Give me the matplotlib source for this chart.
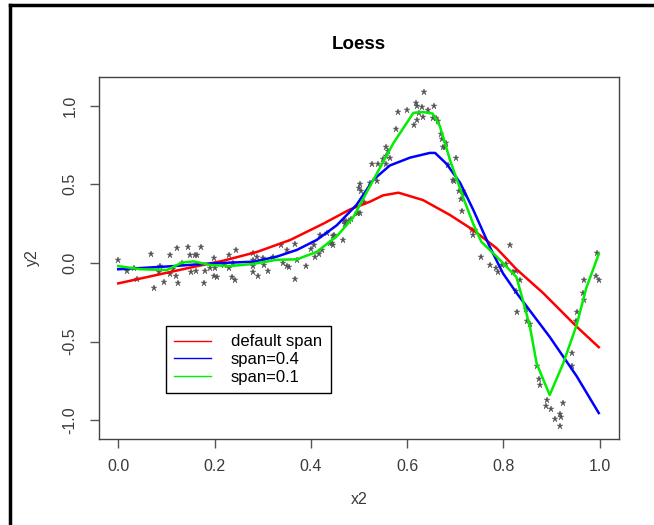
import matplotlib
matplotlib.use("Agg")
import matplotlib.pyplot as plt
from matplotlib.lines import Line2D

plt.rcParams['font.family'] = ['Liberation Sans', 'DejaVu Sans']

# scatter points
x2 = [0.00, 0.018, 0.032, 0.039, 0.068, 0.075, 0.084, 0.086, 0.095, 0.108,
      0.108, 0.113, 0.120, 0.123, 0.125, 0.132, 0.144, 0.148, 0.151, 0.160,
      0.164, 0.162, 0.172, 0.178, 0.180, 0.191, 0.199, 0.201, 0.198, 0.206,
      0.219, 0.229, 0.231, 0.238, 0.236, 0.243, 0.245, 0.279, 0.280, 0.279,
      0.279, 0.288, 0.291, 0.301, 0.302, 0.310, 0.321, 0.338, 0.342, 0.350,
      0.354, 0.351, 0.367, 0.367, 0.371, 0.390, 0.400, 0.407, 0.409, 0.416,
      0.423, 0.419, 0.434, 0.440, 0.445, 0.447, 0.443, 0.448, 0.466, 0.469,
      0.471, 0.474, 0.480, 0.483, 0.495, 0.498, 0.502, 0.500, 0.502, 0.505,
      0.510, 0.523, 0.528, 0.538, 0.540, 0.550, 0.556, 0.556, 0.557, 0.561,
      0.564, 0.577, 0.580, 0.600, 0.614, 0.618, 0.621, 0.621, 0.625, 0.630,
      0.632, 0.635, 0.644, 0.654, 0.656, 0.659, 0.665, 0.671, 0.673, 0.675,
      0.678, 0.680, 0.685, 0.696, 0.698, 0.701, 0.708, 0.711, 0.713, 0.715,
      0.719, 0.734, 0.737, 0.741, 0.754, 0.772, 0.784, 0.789, 0.798, 0.806,
      0.813, 0.819, 0.826, 0.835, 0.826, 0.829, 0.846, 0.848, 0.855, 0.869,
      0.874, 0.876, 0.888, 0.891, 0.898, 0.907, 0.917, 0.917, 0.920, 0.924,
      0.943, 0.943, 0.950, 0.953, 0.966, 0.967, 0.967, 0.993, 0.998, 0.995]
y2 = [0.02, -0.05, -0.03, -0.10, 0.06, -0.16, -0.06, -0.02, -0.12, 0.05,
      -0.07, -0.04, -0.08, 0.095, -0.13, 0.00, 0.10, 0.05, -0.06, 0.05,
      0.05, -0.05, 0.10, -0.13, -0.05, -0.03, 0.03, -0.03, -0.08, -0.09,
      -0.01, -0.03, 0.05, 0.00, -0.09, -0.11, 0.08, 0.065, 0.02, -0.02,
      -0.06, 0.04, -0.08, 0.03, -0.01, -0.05, 0.036, 0.115, 0.00, -0.02,
      -0.025, 0.08, 0.12, -0.10, 0.02, -0.02, 0.09, 0.115, 0.04, 0.06,
      0.08, 0.18, 0.19, 0.125, 0.115, 0.17, 0.13, 0.18, 0.146, 0.27,
      0.25, 0.27, 0.27, 0.28, 0.32, 0.32, 0.315, 0.48, 0.50, 0.46,
      0.39, 0.51, 0.63, 0.52, 0.63, 0.66, 0.68, 0.74, 0.63, 0.715,
      0.665, 0.85, 0.96, 0.97, 0.88, 1.02, 1.00, 0.91, 0.955, 0.99,
      0.93, 1.09, 0.97, 0.925, 1.00, 0.925, 0.905, 0.82, 0.79, 0.735,
      0.735, 0.76, 0.62, 0.53, 0.52, 0.67, 0.46, 0.41, 0.33, 0.46,
      0.44, 0.21, 0.18, 0.21, 0.04, -0.013, -0.03, -0.06, -0.013, -0.006,
      0.115, -0.06, -0.05, -0.11, -0.18, -0.31, -0.29, -0.37, -0.39, -0.655,
      -0.74, -0.775, -0.91, -0.87, -0.93, -0.99, -0.96, -1.04, -0.98, -0.89,
      -0.57, -0.655, -0.37, -0.31, -0.19, -0.235, -0.11, -0.08, -0.11, 0.065]

# fitted curves
red_x = [0.0, 0.149, 0.219, 0.288, 0.357, 0.426, 0.481, 0.523, 0.550, 0.582,
         0.633, 0.689, 0.737, 0.786, 0.827, 0.882, 0.952, 0.998]
red_y = [-0.13, -0.03, 0.015, 0.07, 0.146, 0.25, 0.34, 0.39, 0.43, 0.447,
         0.40, 0.305, 0.21, 0.093, -0.04, -0.19, -0.405, -0.536]

blue_x = [0.0, 0.06, 0.115, 0.177, 0.232, 0.281, 0.329, 0.371, 0.412, 0.454,
          0.495, 0.530, 0.564, 0.606, 0.647, 0.658, 0.682, 0.710, 0.737, 0.772,
          0.799, 0.827, 0.896, 0.952, 0.998]
blue_y = [-0.04, -0.03, -0.02, -0.006, 0.002, 0.008, 0.04, 0.083, 0.146, 0.24,
          0.37, 0.53, 0.62, 0.67, 0.70, 0.70, 0.63, 0.51, 0.34, 0.10,
          -0.066, -0.19, -0.47, -0.72, -0.955]

green_x = [0.0, 0.046, 0.101, 0.132, 0.156, 0.191, 0.232, 0.281, 0.329, 0.371,
           0.412, 0.454, 0.488, 0.530, 0.571, 0.613, 0.633, 0.653, 0.668, 0.689,
           0.716, 0.737, 0.754, 0.786, 0.813, 0.827, 0.837, 0.855, 0.869, 0.896,
           0.924, 0.952, 0.972, 0.998]
green_y = [-0.02, -0.04, -0.045, 0.002, 0.01, -0.013, -0.02, -0.006, 0.02, 0.023,
           0.07, 0.17, 0.29, 0.53, 0.76, 0.955, 0.96, 0.95, 0.87, 0.655,
           0.42, 0.25, 0.135, 0.04, -0.045, -0.09, -0.20, -0.405, -0.64, -0.84,
           -0.64, -0.395, -0.16, 0.057]

labels = ["default span", "span=0.4", "span=0.1"]
colors = ["#ff0000", "#0000ff", "#00ee00"]

fig = plt.figure(figsize=(6.54, 5.25), dpi=100)
ax = fig.add_axes([99 / 654, 1 - 439 / 525, 520 / 654, 362 / 525])

ax.plot(x2, y2, linestyle="none", marker="*", markersize=4.5, color="#555555",
        markeredgewidth=0.3)
ax.plot(red_x, red_y, color=colors[0], lw=1.8)
ax.plot(blue_x, blue_y, color=colors[1], lw=1.8)
ax.plot(green_x, green_y, color=colors[2], lw=1.8)

ax.set_xlim(-0.04, 1.04)
ax.set_ylim(-1.12, 1.183)
ax.set_xticks([0.0, 0.2, 0.4, 0.6, 0.8, 1.0])
ax.set_xticklabels(["0.0", "0.2", "0.4", "0.6", "0.8", "1.0"])
ax.set_yticks([-1.0, -0.5, 0.0, 0.5, 1.0])
ax.set_yticklabels(["-1.0", "-0.5", "0.0", "0.5", "1.0"], rotation=90, va="center")
ax.tick_params(direction="out", length=6.5, width=1, colors="#555555",
               labelcolor="#3a3a3a", labelsize=11.5)
ax.tick_params(axis="x", pad=8)
ax.tick_params(axis="y", pad=9)
for s in ax.spines.values():
    s.set_color("#444444")
    s.set_linewidth(1)

ax.set_xlabel("x2", fontsize=11.5, color="#3a3a3a", labelpad=13)
ax.set_ylabel("y2", fontsize=11.5, color="#3a3a3a", labelpad=16)
ax.set_title("Loess", fontsize=13.5, fontweight="bold", pad=20)

handles = [Line2D([], [], color=c, lw=1) for c in colors]
leg = ax.legend(handles, labels, loc="upper left", bbox_to_anchor=(0.129, 0.312),
                borderaxespad=0, fancybox=False, edgecolor="black", fontsize=12,
                handlelength=2.2, handletextpad=1.2, labelspacing=0.16,
                borderpad=0.5, framealpha=1)
leg.get_frame().set_linewidth(1)

# black border on left and top of the figure
fig.add_artist(Line2D([9.5 / 654, 9.5 / 654], [0, 1 - 5 / 525], color="black",
                      lw=2.5, transform=fig.transFigure))
fig.add_artist(Line2D([9.5 / 654, 1], [1 - 5 / 525, 1 - 5 / 525], color="black",
                      lw=2.5, transform=fig.transFigure))

fig.savefig("out.png", dpi=100)
